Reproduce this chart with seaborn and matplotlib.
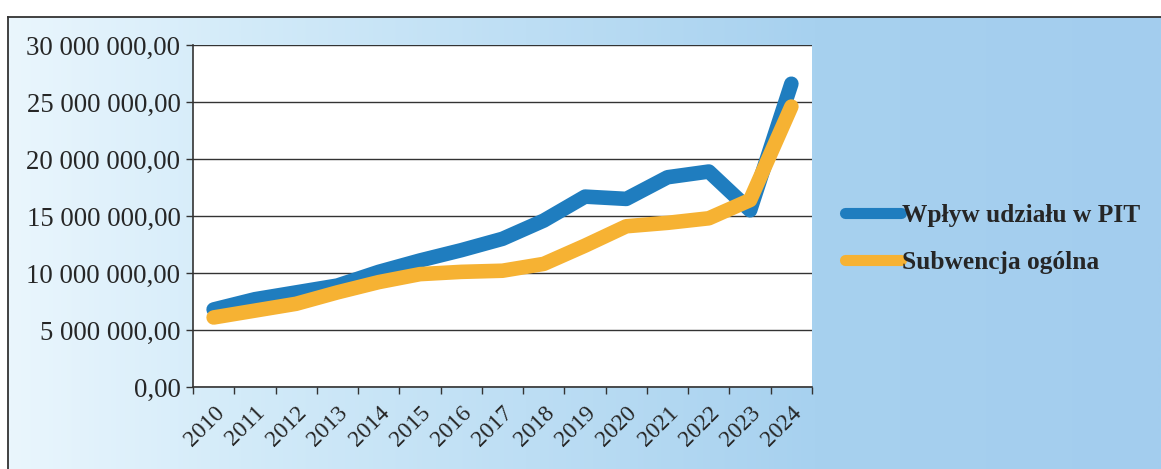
import numpy as np
import pandas as pd
import seaborn as sns
import matplotlib.pyplot as plt
from matplotlib.colors import LinearSegmentedColormap
from matplotlib.ticker import FuncFormatter, FixedLocator

# values (PLN)
years = [str(y) for y in range(2010, 2025)]
pit = [6.8e6, 7.7e6, 8.3e6, 8.9e6, 10.1e6, 11.1e6, 12.0e6, 13.0e6,
       14.6e6, 16.7e6, 16.5e6, 18.4e6, 18.9e6, 15.5e6, 26.6e6]
subwencja = [6.1e6, 6.7e6, 7.3e6, 8.3e6, 9.2e6, 9.9e6, 10.1e6, 10.2e6,
             10.8e6, 12.4e6, 14.1e6, 14.4e6, 14.8e6, 16.4e6, 24.6e6]
series_names = ['Wpływ udziału w PIT', 'Subwencja ogólna']
colors = ['#1f7dbf', '#f6b233']

df = pd.DataFrame({
    'rok': years * 2,
    'kwota': pit + subwencja,
    'seria': [series_names[0]] * len(years) + [series_names[1]] * len(years),
})
df['x'] = list(range(len(years))) * 2

sns.set_theme(style="white")
plt.rcParams['font.family'] = ['Liberation Serif', 'DejaVu Serif']

fig = plt.figure(figsize=(11.61, 4.69), dpi=100)
fig.patch.set_facecolor('white')

# gradient background panel
bg = fig.add_axes([8 / 1161, 0, 1 - 8 / 1161, (469 - 17) / 469])
cmap = LinearSegmentedColormap.from_list(
    'bg', [(0, '#eaf6fd'), (0.2, '#d3ebf9'), (0.7, '#a7d1ef'), (1, '#a3cdee')])
grad = np.linspace(0, 1, 512).reshape(1, -1)
bg.imshow(grad, aspect='auto', cmap=cmap, extent=[0, 1, 0, 1])
bg.set_xlim(0, 1)
bg.set_ylim(0, 1)
bg.set_xticks([])
bg.set_yticks([])
for s in ['right', 'bottom']:
    bg.spines[s].set_visible(False)
for s in ['left', 'top']:
    bg.spines[s].set_color('#333333')
    bg.spines[s].set_linewidth(1.3)

ax = fig.add_axes([193 / 1161, 1 - 387 / 469, (812 - 193) / 1161, (387 - 45) / 469])
ax.set_facecolor('white')

sns.lineplot(data=df, x='x', y='kwota', hue='seria', palette=colors,
             linewidth=10.5, solid_capstyle='round', solid_joinstyle='round',
             ax=ax, legend=True)

ax.set_xlim(-0.5, len(years) - 0.5)
ax.set_ylim(0, 30e6)
ax.set_yticks(np.arange(0, 30e6 + 1, 5e6))
ax.yaxis.set_major_formatter(FuncFormatter(
    lambda v, p: f"{v:,.2f}".replace(',', ' ').replace('.', ',')))
ax.set_xticks(range(len(years)))
ax.set_xticklabels(years, rotation=45, ha='right', rotation_mode='anchor')
ax.xaxis.set_minor_locator(FixedLocator(np.arange(-0.5, len(years), 1)))
ax.tick_params(axis='x', which='major', length=0, pad=11, labelsize=17)
ax.tick_params(axis='x', which='minor', length=5, width=1, color='#333333',
               direction='out', bottom=True)
ax.tick_params(axis='y', length=5, width=1, color='#333333', direction='out',
               left=True, labelsize=19.3, pad=4)
ax.grid(axis='y', color='#333333', linewidth=1)
ax.set_axisbelow(True)
for s in ['top', 'right']:
    ax.spines[s].set_visible(False)
for s in ['left', 'bottom']:
    ax.spines[s].set_color('#333333')
    ax.spines[s].set_linewidth(1.2)
ax.set_xlabel('')
ax.set_ylabel('')

leg = ax.legend(loc='center left', bbox_to_anchor=(845 / 1161, 1 - 239 / 469),
                bbox_transform=fig.transFigure, frameon=False, borderpad=0,
                borderaxespad=0, handlelength=2.2, handletextpad=0.05,
                labelspacing=0.95,
                prop={'family': 'Liberation Serif', 'weight': 'bold', 'size': 18.3})
for line in leg.get_lines():
    line.set_linewidth(8)
    line.set_solid_capstyle('round')

fig.savefig('out.png', dpi=100)
